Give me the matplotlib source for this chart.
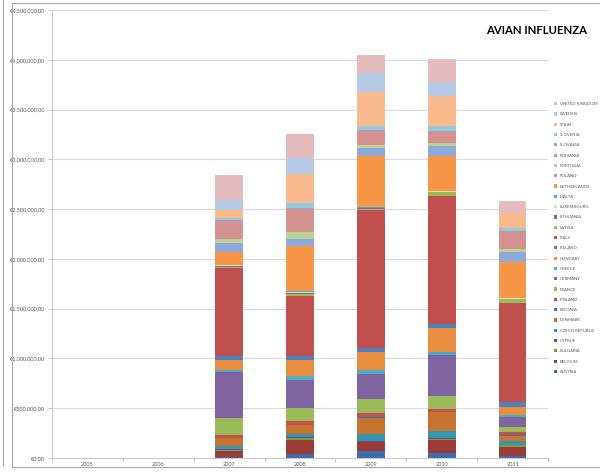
import matplotlib
matplotlib.use("Agg")
import matplotlib.pyplot as plt
import numpy as np
from matplotlib.patches import Rectangle, Patch
from matplotlib.lines import Line2D
from matplotlib.ticker import FuncFormatter, FixedLocator

plt.rcParams['font.family'] = ['Lato', 'DejaVu Sans']

years = ["2005", "2006", "2007", "2008", "2009", "2010", "2011"]
countries = ["AUSTRIA", "BELGIUM", "BULGARIA", "CYPRUS", "CZECH REPUBLIC", "DENMARK",
             "ESTONIA", "FINLAND", "FRANCE", "GERMANY", "GREECE", "HUNGARY", "IRELAND",
             "ITALY", "LATVIA", "LITHUANIA", "LUXEMBOURG", "MALTA", "NETHERLANDS",
             "POLAND", "PORTUGAL", "ROMANIA", "SLOVAKIA", "SLOVENIA", "SPAIN",
             "SWEDEN", "UNITED KINGDOM"]
colors = ["#3F6DAA", "#9C3A37", "#7E9D43", "#674F88", "#3496B0", "#C5732F",
          "#2F7DA8", "#C0504D", "#9BBB59", "#8064A2", "#4BACC6", "#E98D3E", "#4F81BD",
          "#C0504D", "#9BBB59", "#8064A2", "#D7E4BD", "#4BACC6", "#F79646",
          "#8EA9D8", "#BCD196", "#D49290", "#AB9DC8", "#8FCBDA", "#F9BA8E",
          "#B6C9E5", "#E5BCBD"]

v2005 = [0] * 27
v2006 = [0] * 27
v2007 = [15000, 55000, 10000, 10000, 30000, 80000, 5000, 28000, 168000, 462000, 17000, 100000, 40000,
         890000, 10000, 10000, 5000, 5000, 134000, 84000, 40000, 185000, 10000, 20000, 80000, 100000, 254000]
v2008 = [45000, 134000, 17000, 10000, 40000, 84000, 5000, 33000, 134000, 285000, 33000, 167000, 40000,
         603000, 15000, 15000, 10000, 10000, 445000, 74000, 67000, 234000, 10000, 50000, 290000, 167000, 241000]
v2009 = [74000, 84000, 5000, 5000, 77000, 157000, 5000, 43000, 141000, 254000, 40000, 177000, 40000,
         1389000, 10000, 7000, 5000, 5000, 516000, 77000, 33000, 140000, 10000, 40000, 340000, 190000, 184000]
v2010 = [50000, 127000, 12000, 11000, 67000, 191000, 5000, 33000, 127000, 409000, 37000, 234000, 40000,
         1289000, 35000, 5000, 5000, 5000, 352000, 100000, 33000, 107000, 10000, 50000, 300000, 140000, 230000]
v2011 = [20000, 87000, 20000, 5000, 35000, 55000, 10000, 25000, 50000, 100000, 23000, 84000, 50000,
         990000, 40000, 5000, 5000, 0, 368000, 100000, 23000, 182000, 5000, 33000, 141000, 5000, 117000]

data = np.array([v2005, v2006, v2007, v2008, v2009, v2010, v2011], dtype=float).T  # countries x years

W, H = 600, 474
fig = plt.figure(figsize=(W / 100, H / 100), dpi=100)
fig.patch.set_facecolor("white")

# outer frames
fig.add_artist(Rectangle((12 / W, 1 - 467 / H), (620 - 12) / W, (467 - 3) / H,
                         transform=fig.transFigure, fill=False, edgecolor="#A6A6A6", lw=0.8))
fig.add_artist(Line2D([2.5 / W, 2.5 / W], [1 - 465 / H, 1.0], transform=fig.transFigure,
                      color="#A6A6A6", lw=0.8))

ax = fig.add_axes([52 / W, 1 - 458 / H, (548 - 52) / W, (458 - 10) / H])
x = np.arange(len(years))
bottom = np.zeros(len(years))
for i, c in enumerate(countries):
    ax.bar(x, data[i], 0.39, bottom=bottom, color=colors[i], edgecolor="none", zorder=3, label=c)
    bottom += data[i]

ax.set_xlim(-0.5, len(years) - 0.5)
ax.set_ylim(0, 4.5e6)
ax.yaxis.set_major_locator(FixedLocator(np.arange(0, 4.5e6 + 1, 5e5)))


def euro(v, pos):
    s = f"{v:,.2f}".replace(",", "X").replace(".", ",").replace("X", ".")
    return "€" + s


ax.yaxis.set_major_formatter(FuncFormatter(euro))
ax.grid(axis="y", color="#D9D9D9", lw=0.8, zorder=0)
ax.set_xticks(x)
ax.set_xticklabels(years)
ax.set_xticks(np.arange(-0.5, len(years), 1), minor=True)
ax.tick_params(axis="x", which="major", length=0, labelsize=4, labelcolor="#595959", pad=3)
ax.tick_params(axis="x", which="minor", length=3, color="#BFBFBF", width=0.6)
ax.tick_params(axis="y", length=3, color="#BFBFBF", width=0.6, labelsize=4, labelcolor="#595959", pad=2)
for s in ["top", "right"]:
    ax.spines[s].set_visible(False)
ax.spines["left"].set_color("#BFBFBF")
ax.spines["bottom"].set_color("#BFBFBF")
ax.spines["left"].set_linewidth(0.6)
ax.spines["bottom"].set_linewidth(0.6)

fig.text(537 / W, 1 - 30 / H, "AVIAN INFLUENZA", ha="center", va="center",
         fontsize=8.2, fontweight="bold", color="black")

handles = [Patch(facecolor=colors[i], edgecolor="none") for i in range(len(countries))][::-1]
labels = countries[::-1]
leg = fig.legend(handles, labels, loc="upper left", bbox_to_anchor=(554 / W, 1 - 102 / H),
                 frameon=False, fontsize=3.1, handlelength=0.8, handleheight=0.8,
                 handletextpad=0.5, labelspacing=1.43, borderaxespad=0, borderpad=0)
for t in leg.get_texts():
    t.set_color("#595959")

fig.savefig("out.png", dpi=100, facecolor="white")
